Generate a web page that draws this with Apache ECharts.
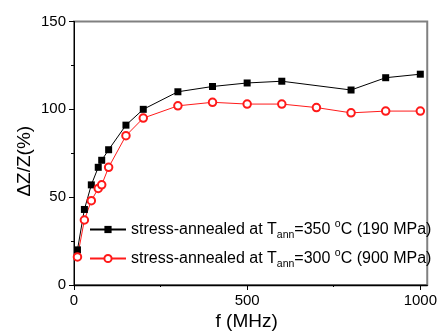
<!DOCTYPE html>
<html>
<head>
<meta charset="utf-8">
<script src="https://cdn.jsdelivr.net/npm/echarts@6/dist/echarts.min.js"></script>
<style>
  html, body { margin: 0; padding: 0; background: #fff; }
  #chart { width: 440px; height: 336px; }
</style>
</head>
<body>
<div id="chart"></div>
<script>
// Frequency (MHz) and GMI ratio (%) for the two annealing conditions
const freq350 = [10, 30, 50, 70, 80, 100, 150, 200, 300, 400, 500, 600, 800, 900, 1000];
const gmi350  = [20, 43, 57, 67, 71, 77, 91, 100, 110, 113, 115, 116, 111, 118, 120];
const freq300 = [10, 30, 50, 70, 80, 100, 150, 200, 300, 400, 500, 600, 700, 800, 900, 1000];
const gmi300  = [16, 37, 48, 55, 57, 67, 85, 95, 102, 104, 103, 103, 101, 98, 99, 99];

// Legend pieces: annealing temperature and applied stress
const seriesNames = ['350 °C (190 MPa)', '300 °C (900 MPa)'];
const annealTemps = ['350', '300'];
const stresses = ['190', '900'];

const xMajorTicks = [0, 500, 1000];
const xMinorTicks = [250, 750];

const zip = (xs, ys) => xs.map((x, i) => [x, ys[i]]);
const FONT = 'Liberation Sans';

const chart = echarts.init(document.getElementById('chart'), null, { renderer: 'canvas' });

chart.setOption({
  animation: false,
  backgroundColor: '#fff',
  textStyle: { fontFamily: FONT, color: '#000' },
  grid: {
    left: 74, right: 8, top: 21.5, bottom: 50.5,
    show: true, borderColor: '#808080', borderWidth: 2, backgroundColor: 'transparent'
  },
  legend: {
    orient: 'vertical',
    left: 84, top: 214, padding: 5,
    itemWidth: 36, itemHeight: 9, itemGap: 7,
    data: seriesNames,
    formatter: function (name) {
      const i = seriesNames.indexOf(name);
      return '{a|stress-annealed at T}{sub|ann}{a|=' + annealTemps[i] + ' }{sup|o}{a|C (' + stresses[i] + ' MPa)}';
    },
    textStyle: {
      fontFamily: FONT, color: '#000', fontSize: 16,
      rich: {
        a: { fontFamily: FONT, fontSize: 16, color: '#000', lineHeight: 22 },
        sub: { fontFamily: FONT, fontSize: 10.5, color: '#000', padding: [12, 0, 0, 0] },
        sup: { fontFamily: FONT, fontSize: 10.5, color: '#000', padding: [0, 0, 10, 0] }
      }
    }
  },
  xAxis: [
    {
      type: 'value', min: 0, max: 1020, position: 'bottom',
      name: 'f (MHz)', nameLocation: 'middle', nameGap: 27, nameMoveOverlap: false,
      nameTextStyle: { fontFamily: FONT, fontSize: 19, color: '#000', padding: [0, 8, 0, 0] },
      axisLine: { show: true, onZero: false, lineStyle: { color: '#000', width: 1.3 } },
      axisTick: { show: true, inside: false, length: 5, customValues: xMajorTicks, lineStyle: { color: '#000' } },
      axisLabel: {
        show: true, margin: 8, fontSize: 15, color: '#000', fontFamily: FONT,
        customValues: xMajorTicks, formatter: v => String(v)
      },
      splitLine: { show: false }
    },
    {
      type: 'value', min: 0, max: 1020, position: 'bottom',
      axisLine: { show: false },
      axisTick: { show: true, inside: false, length: 2, customValues: xMinorTicks, lineStyle: { color: '#000' } },
      axisLabel: { show: false },
      splitLine: { show: false }
    }
  ],
  yAxis: {
    type: 'value', min: 0, max: 150, interval: 50,
    name: 'ΔZ/Z(%)', nameLocation: 'middle', nameGap: 40, nameMoveOverlap: false,
    nameTextStyle: { fontFamily: FONT, fontSize: 19, color: '#000', padding: [0, 16, 0, 0] },
    axisLine: { show: true, onZero: false, lineStyle: { color: '#000', width: 1 } },
    axisTick: { show: true, inside: false, length: 5, lineStyle: { color: '#000' } },
    minorTick: { show: true, splitNumber: 2, length: 3, lineStyle: { color: '#000' } },
    axisLabel: { margin: 8, fontSize: 15, color: '#000', fontFamily: FONT },
    splitLine: { show: false }
  },
  series: [
    {
      name: seriesNames[0], type: 'line', xAxisIndex: 0,
      data: zip(freq350, gmi350),
      symbol: 'rect', symbolSize: 7,
      itemStyle: { color: '#000' },
      lineStyle: { color: '#000', width: 1 }
    },
    {
      name: seriesNames[1], type: 'line', xAxisIndex: 0,
      data: zip(freq300, gmi300),
      symbol: 'emptyCircle', symbolSize: 7.5,
      itemStyle: { color: '#ff1a1a', borderWidth: 1.2 },
      lineStyle: { color: '#ff1a1a', width: 1 }
    }
  ]
});
</script>
</body>
</html>
